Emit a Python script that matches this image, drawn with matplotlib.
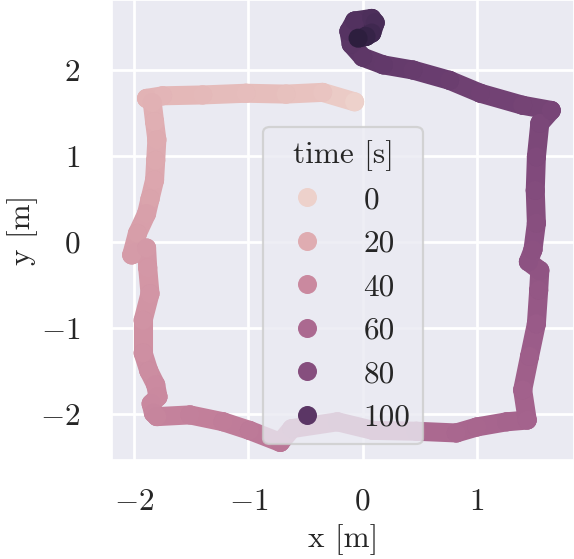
from matplotlib import pyplot as plt
from matplotlib.collections import LineCollection
from matplotlib.lines import Line2D
import numpy as np
import seaborn as sns

# robot position (waypoints along the track)
x_pos = [-0.07, -0.35, -0.67, -1.02, -1.40, -1.75, -1.89,
         -1.84, -1.82, -1.80, -1.81, -1.82, -1.86, -1.89, -1.97, -2.02,
         -1.89, -1.88, -1.86, -1.92, -1.92, -1.87, -1.81, -1.79, -1.85, -1.83,
         -1.80, -1.51, -1.22, -0.99, -0.72, -0.62, -0.22, 0.09, 0.47, 0.82, 1.00, 1.26, 1.44,
         1.40, 1.46, 1.52, 1.54, 1.55,
         1.45, 1.49, 1.52, 1.51, 1.52, 1.55, 1.65,
         1.40, 1.03, 0.76, 0.44, 0.18, 0.00,
         -0.10, -0.12, -0.07, 0.08, 0.11, 0.08, 0.03, -0.04]
y_pos = [1.63, 1.74, 1.72, 1.73, 1.71, 1.70, 1.67,
         1.62, 1.40, 1.19, 0.95, 0.72, 0.50, 0.33, 0.10, -0.15,
         -0.07, -0.30, -0.60, -0.91, -1.29, -1.50, -1.66, -1.80, -1.88, -1.99,
         -2.03, -2.01, -2.09, -2.19, -2.33, -2.17, -2.09, -2.19, -2.20, -2.22, -2.15, -2.09, -2.07,
         -1.72, -1.33, -0.95, -0.56, -0.33,
         -0.23, -0.09, 0.22, 0.60, 0.99, 1.38, 1.53,
         1.59, 1.73, 1.88, 2.00, 2.06, 2.15,
         2.30, 2.45, 2.57, 2.60, 2.55, 2.43, 2.39, 2.37]
t_sec = [0, 7, 9.5, 11, 13, 15, 16.5,
         17.5, 19, 20.5, 22, 23.5, 25, 26.5, 28, 29.5,
         30.5, 31.5, 33, 34.5, 36.5, 38, 39, 40, 40.5, 41.5,
         42.5, 45, 47, 49, 51, 52.5, 55, 57, 59, 61, 62, 63, 64,
         65.5, 67.5, 70, 72.5, 74.5,
         76, 77, 79, 81, 83, 85, 86.5,
         88, 90, 92, 94.5, 96.5, 98.5,
         100, 102, 104, 106, 108, 112, 117, 122]

legend_ticks = [0, 20, 40, 60, 80, 100]

sns.set_theme(style='darkgrid')
plt.rcParams['font.family'] = 'serif'
plt.rcParams['font.serif'] = ['cmr10']
plt.rcParams['mathtext.fontset'] = 'cm'
plt.rcParams['axes.formatter.use_mathtext'] = True
plt.rcParams['font.size'] = 22.5
plt.rcParams['grid.linewidth'] = 2.0

cmap = sns.color_palette('ch:', as_cmap=True)
norm = plt.Normalize(min(t_sec), max(t_sec))

fig = plt.figure(figsize=(5.74, 5.59), dpi=100)
ax = fig.add_axes([0.195, 0.177, 0.805, 0.823])

pts = np.column_stack([x_pos, y_pos])
segs = np.stack([pts[:-1], pts[1:]], axis=1)
t_mid = (np.array(t_sec[:-1]) + np.array(t_sec[1:])) / 2
lw = 13.7
lc = LineCollection(segs, colors=cmap(norm(t_mid)), linewidths=lw,
                    capstyle='round', joinstyle='round', zorder=2)
ax.add_collection(lc)
ax.scatter(x_pos, y_pos, c=t_sec, cmap=cmap, norm=norm, s=lw**2,
           linewidths=0, zorder=2)

ax.set_xlim(-2.193, 1.849)
ax.set_ylim(-2.535, 2.814)
ax.set_xticks([-2, -1, 0, 1])
ax.set_yticks([-2, -1, 0, 1, 2])
ax.tick_params(axis='x', labelsize=22.5, pad=14)
ax.tick_params(axis='y', labelsize=22.5, pad=17)
ax.set_xlabel('x [m]', fontsize=22.5, labelpad=6)
ax.set_ylabel('y [m]', fontsize=22.5, labelpad=1)

handles = [Line2D([], [], linestyle='', marker='o', markersize=lw,
                  markeredgewidth=0, color=cmap(norm(v))) for v in legend_ticks]
leg = ax.legend(handles, [str(v) for v in legend_ticks], title='time [s]',
                loc='lower center', fontsize=22.5, title_fontsize=22.5)
leg.get_frame().set_linewidth(1.6)

fig.savefig('out.png', dpi=100)
